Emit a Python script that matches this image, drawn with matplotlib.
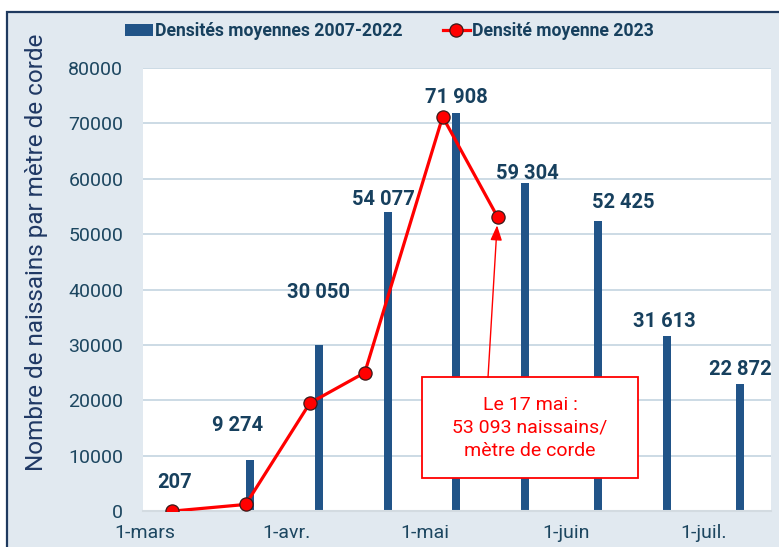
import datetime as dt
import matplotlib
matplotlib.use('Agg')
import matplotlib.pyplot as plt
from matplotlib.patches import Rectangle

plt.rcParams['font.family'] = ['Roboto', 'DejaVu Sans']

# Densités moyennes 2007-2022 (barres)
dates_moy = [dt.date(2023, 3, 7), dt.date(2023, 3, 24), dt.date(2023, 4, 8),
             dt.date(2023, 4, 23), dt.date(2023, 5, 8), dt.date(2023, 5, 23),
             dt.date(2023, 6, 8), dt.date(2023, 6, 23), dt.date(2023, 7, 9)]
vals_moy = [207, 9274, 30050, 54077, 71908, 59304, 52425, 31613, 22872]

# Densité moyenne 2023 (courbe)
dates_2023 = [dt.date(2023, 3, 7), dt.date(2023, 3, 23), dt.date(2023, 4, 6),
              dt.date(2023, 4, 18), dt.date(2023, 5, 5), dt.date(2023, 5, 17)]
vals_2023 = [0, 1200, 19500, 25000, 71200, 53093]

mois = ['1-mars', '1-avr.', '1-mai', '1-juin', '1-juil.']
mois_dates = [dt.date(2023, m, 1) for m in range(3, 8)]

# décalage des étiquettes (points), placées à la main comme dans l'original
decal_etiq = [(1.5, 16), (-9, 21), (0, 33.5), (-2.7, 4.7), (0, 6.8),
              (2, 2.6), (18, 9), (-2, 6.7), (0, 6.8)]

bleu = '#215488'
rouge = '#ff0000'
texte = '#17405e'

fig = plt.figure(figsize=(7.79, 5.47), dpi=100)
fig.patch.set_facecolor('white')
fond = Rectangle((7 / 779, -0.05), 1.1, 0.05 + (547 - 11.5) / 547,
                 transform=fig.transFigure, facecolor='#e1e9f0',
                 edgecolor='#1f3a5f', linewidth=1.6, zorder=-1)
fig.add_artist(fond)

ax = fig.add_axes([142.7 / 779, 35.9 / 547, 628.3 / 779, 443.1 / 547])
ax.set_facecolor('white')

barres = ax.bar(dates_moy, vals_moy, width=1.75, color=bleu, zorder=2,
                label='Densités moyennes 2007-2022')
courbe, = ax.plot(dates_2023, vals_2023, color=rouge, lw=2.3, marker='o',
                  ms=9.5, mfc=rouge, mec='#3a1a1a', mew=0.9, zorder=3,
                  label='Densité moyenne 2023')

for d, v, (dx, dy) in zip(dates_moy, vals_moy, decal_etiq):
    ax.annotate(f"{v:,}".replace(',', ' '), (d, v), xytext=(dx, dy),
                textcoords='offset points', ha='center', va='baseline',
                fontsize=14.5, fontweight='bold', color=texte, zorder=4)

# encadré et flèche
ax.add_patch(Rectangle((0.444, 0.074), 0.345, 0.228, transform=ax.transAxes,
                       facecolor='white', edgecolor=rouge, lw=1.3, zorder=5))
ax.text(0.6165, 0.188, 'Le 17 mai :\n53 093 naissains/\nmètre de corde',
        transform=ax.transAxes, ha='center', va='center', color=rouge,
        fontsize=14, linespacing=1.35, zorder=6)
ax.annotate('', xy=(dates_2023[-1], vals_2023[-1]), xycoords='data',
            xytext=(0.5496, 0.302), textcoords='axes fraction',
            arrowprops=dict(arrowstyle='-|>,head_length=0.9,head_width=0.35',
                            color=rouge, lw=1.0, shrinkA=0, shrinkB=6),
            zorder=6)

ax.set_xlim(dt.datetime(2023, 2, 28, 12), dt.datetime(2023, 7, 15, 17))
ax.set_ylim(0, 80000)
ax.set_yticks(range(0, 80001, 10000))
ax.set_xticks(mois_dates)
ax.set_xticklabels(mois)
ax.tick_params(axis='both', length=0, labelsize=14, labelcolor='#1c4660')
ax.tick_params(axis='y', pad=14)
ax.tick_params(axis='x', pad=9)
ax.grid(axis='y', color='#c8d8e3', lw=1.3, zorder=0)
ax.set_axisbelow(True)
for s in ['top', 'right', 'left']:
    ax.spines[s].set_visible(False)
ax.spines['bottom'].set_color('#d3dbe1')
ax.spines['bottom'].set_linewidth(1.5)

fig.text(37 / 779, 1 - 252 / 547, 'Nombre de naissains par mètre de corde',
         rotation=90, ha='center', va='center', fontsize=17.5, color='#1f3864')

fig.legend([barres, courbe], [barres.get_label(), courbe.get_label()],
           loc='center', bbox_to_anchor=(0.5, 1 - 31 / 547), ncol=2,
           frameon=False, prop={'weight': 'bold', 'size': 12.7},
           labelcolor=texte, handlelength=1.55, handletextpad=0.1,
           columnspacing=2.3)

fig.savefig('out.png', dpi=100)
